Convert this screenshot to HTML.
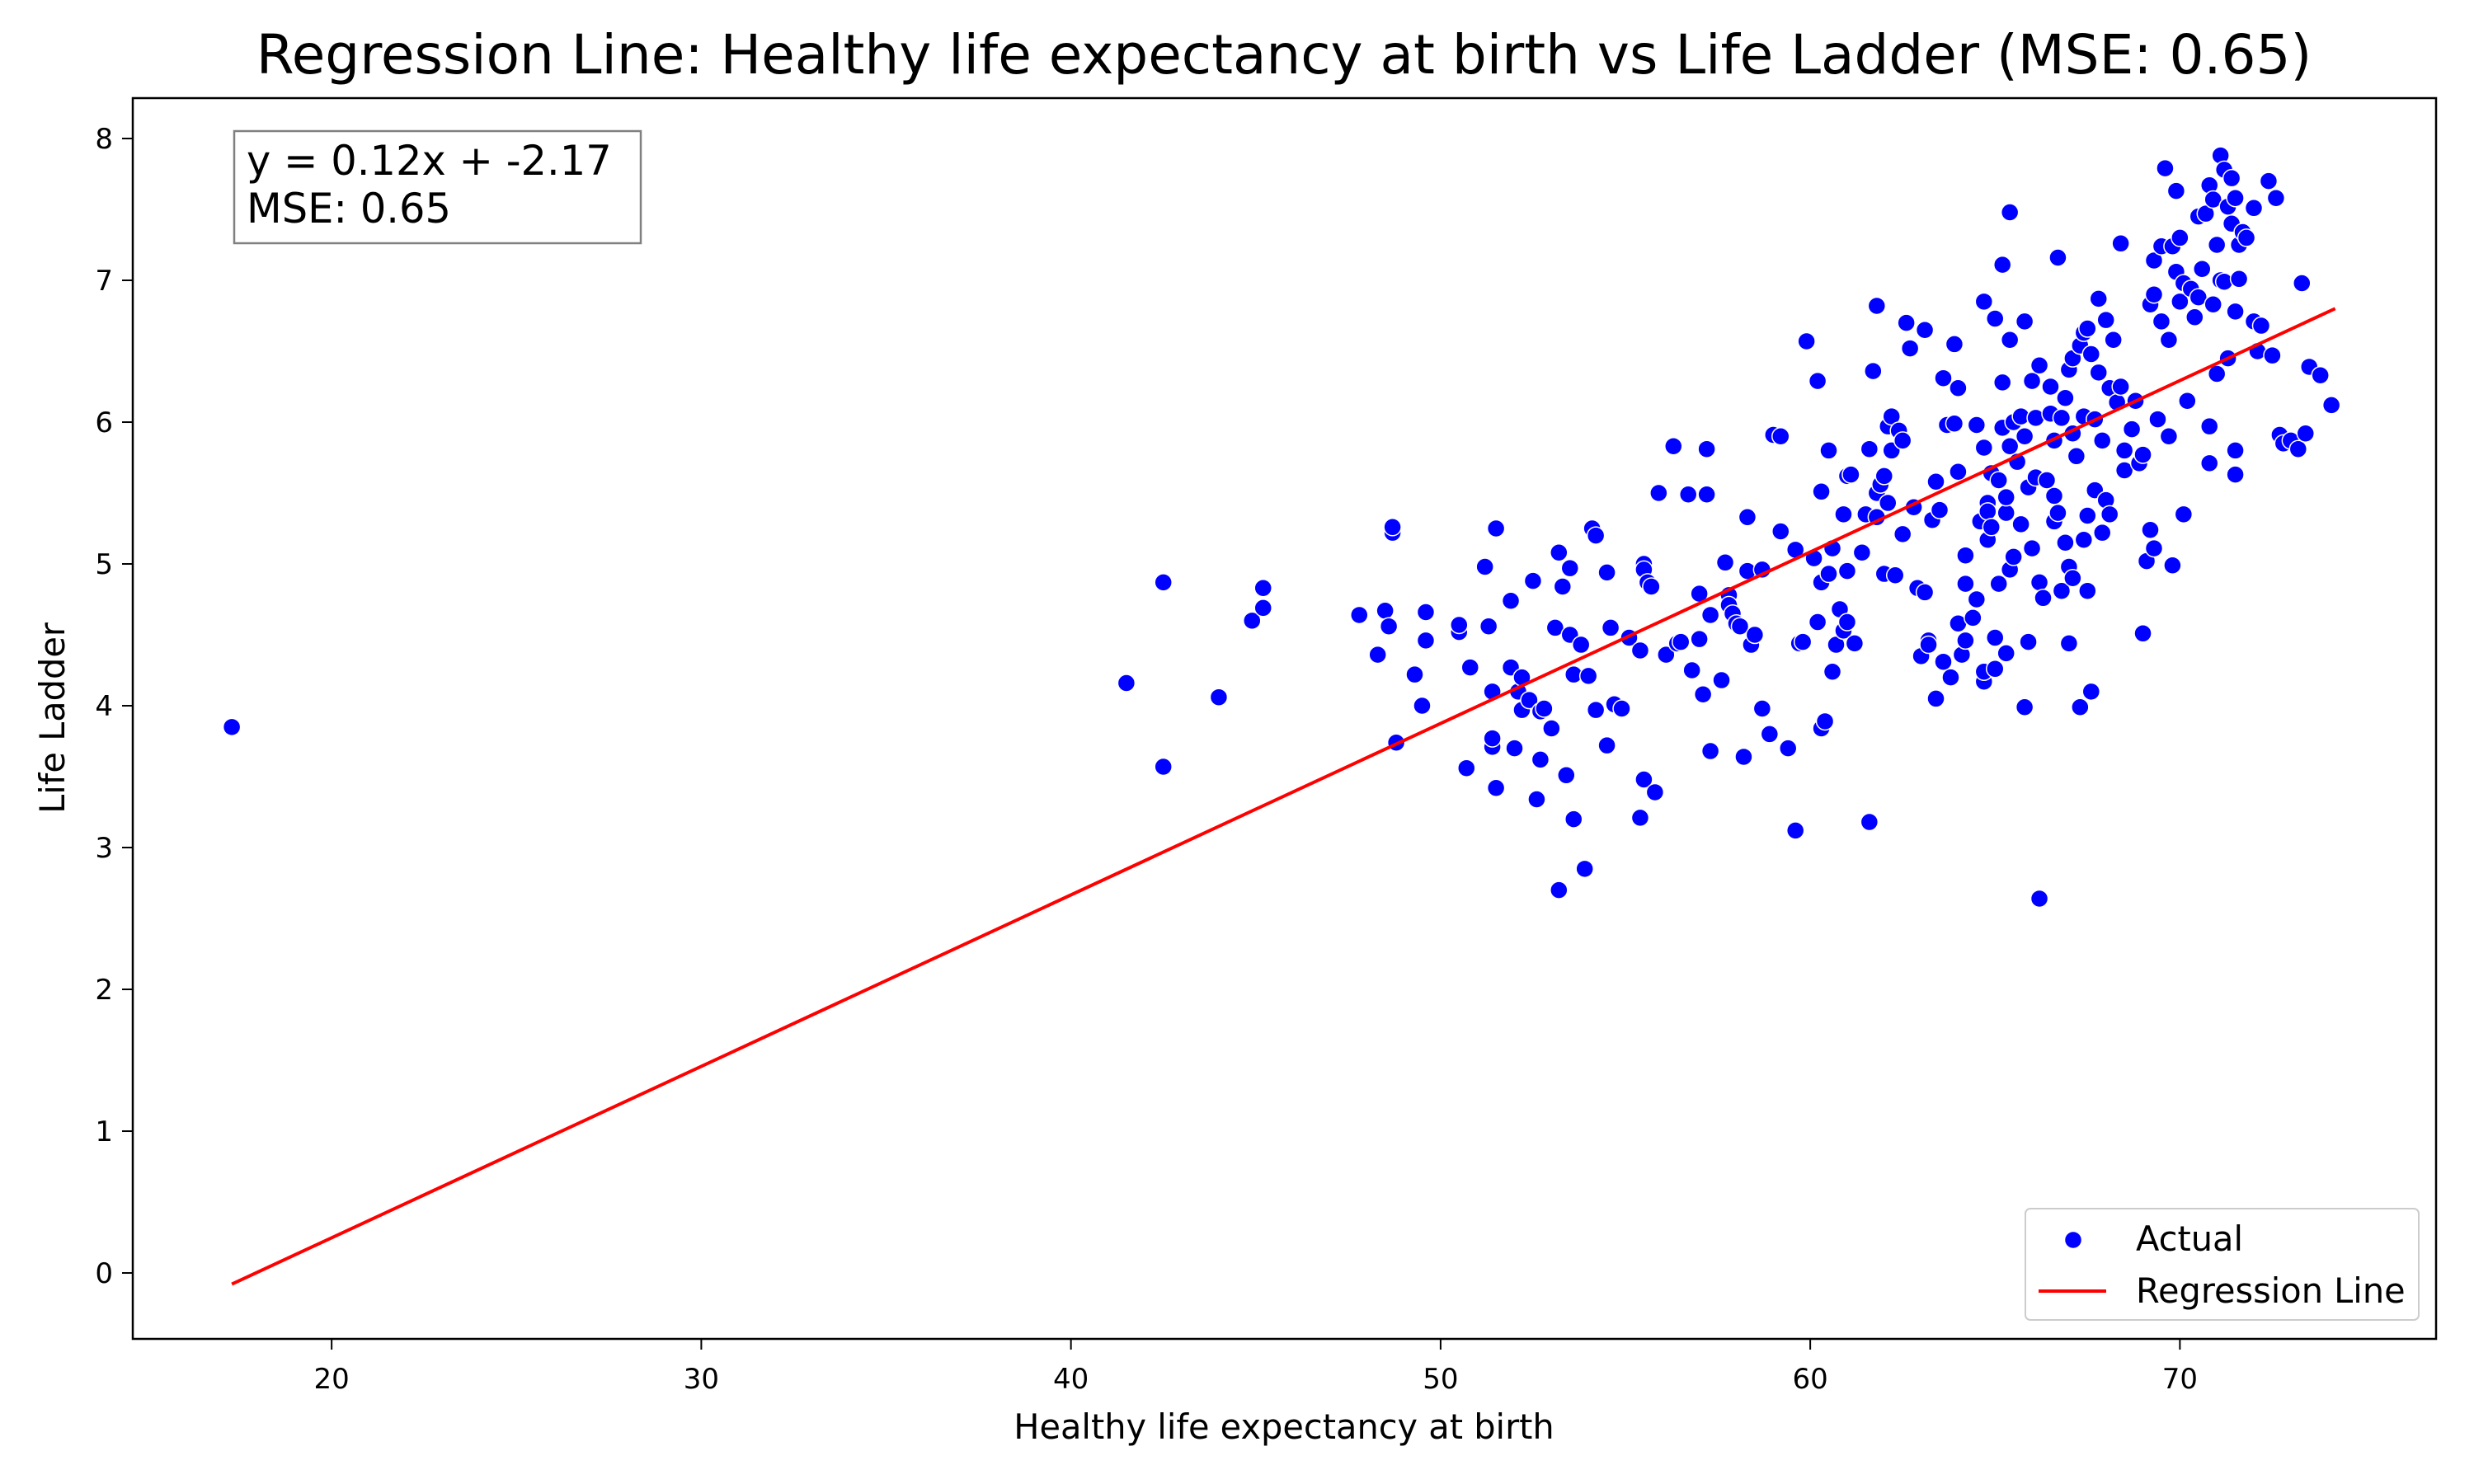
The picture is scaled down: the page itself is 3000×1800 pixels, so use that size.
<!DOCTYPE html>
<html><head><meta charset="utf-8">
<style>
html,body{margin:0;padding:0;background:#fff;}
svg{display:block;font-family:"DejaVu Sans","Liberation Sans",sans-serif;}
</style></head>
<body>
<svg id="chart" width="3000" height="1800" viewBox="0 0 3000 1800" xmlns="http://www.w3.org/2000/svg">
<rect width="3000" height="1800" fill="#fff"/>
<text x="1557" y="89" font-size="66" text-anchor="middle">Regression Line: Healthy life expectancy at birth vs Life Ladder (MSE: 0.65)</text>
<g id="marks"></g>
<g id="axes"></g>
<rect x="161" y="119" width="2793" height="1505" fill="none" stroke="#000" stroke-width="2.5"/>
<g>
<rect x="284" y="159" width="493" height="136" fill="#fff" stroke="#808080" stroke-width="2.5"/>
<text x="299" y="212" font-size="49.5">y = 0.12x + -2.17</text>
<text x="299" y="270" font-size="49.5">MSE: 0.65</text>
</g>
<g>
<rect x="2456" y="1466" width="477" height="135" rx="6" fill="#fff" fill-opacity="0.8" stroke="#ccc" stroke-width="2"/>
<circle cx="2514" cy="1504" r="10.5" fill="#0000ff" stroke="#fff" stroke-width="1.5"/>
<text x="2590" y="1517" font-size="41.5">Actual</text>
<line x1="2472" y1="1566" x2="2554" y2="1566" stroke="#ff0000" stroke-width="4"/>
<text x="2590" y="1580" font-size="41.5">Regression Line</text>
</g>
<text x="1557" y="1745" font-size="41.5" text-anchor="middle">Healthy life expectancy at birth</text>
<text x="0" y="0" font-size="41.5" text-anchor="middle" transform="translate(78,871) rotate(-90)">Life Ladder</text>
</svg>
<script>
const xTicks=[20,30,40,50,60,70];
const yTicks=[0,1,2,3,4,5,6,7,8];
const slope=0.1209, intercept=-2.17;
const lineRange=[17.3,74.2];
const px=[17.3,41.5,42.5,42.5,44,44.9,45.2,45.2,47.8,48.3,48.5,48.6,48.7,48.7,48.8,49.3,49.5,49.6,49.6,50.5,50.5,50.7,50.8,51.2,51.3,51.4,51.4,51.4,51.5,51.5,51.9,51.9,52.0,52.1,52.2,52.2,52.4,52.5,52.6,52.7,52.7,52.8,53,53.1,53.2,53.2,53.3,53.4,53.5,53.5,53.6,53.6,53.8,53.9,54.0,54.1,54.2,54.2,54.5,54.5,54.6,54.7,54.9,55.1,55.4,55.4,55.5,55.5,55.5,55.6,55.7,55.8,55.9,56.1,56.3,56.4,56.5,56.7,56.8,57,57,57.1,57.2,57.2,57.3,57.3,57.6,57.7,57.8,57.8,57.9,58.0,58.1,58.2,58.3,58.3,58.4,58.5,58.7,58.7,58.9,59.0,59.2,59.2,59.4,59.6,59.6,59.7,59.8,59.9,60.1,60.2,60.2,60.3,60.3,60.3,60.4,60.5,60.5,60.6,60.7,60.6,60.9,60.8,60.9,61,61.0,61,61.1,61.2,61.4,61.5,61.6,61.6,61.7,61.8,61.8,61.8,61.9,62,62.0,62.1,62.1,62.2,62.2,62.3,62.4,62.5,62.5,62.6,62.7,62.8,62.9,63,63.1,63.1,63.2,63.2,63.3,63.4,63.4,63.5,63.6,63.6,63.7,63.8,63.9,63.9,64,64.0,64,64.1,64.2,64.2,64.2,64.4,64.5,64.5,64.6,64.7,64.7,64.7,64.7,64.8,64.8,64.8,64.9,64.9,65.0,65,65,65.1,65.1,65.2,65.2,65.2,65.3,65.3,65.3,65.4,65.4,65.4,65.4,65.5,65.5,65.6,65.7,65.7,65.8,65.8,65.8,65.9,65.9,66,66,66.1,66.1,66.2,66.2,66.2,66.3,66.4,66.5,66.5,66.6,66.6,66.6,66.7,66.7,66.8,66.8,66.9,66.9,67,67,67,67.1,67.1,67.1,67.2,67.3,67.3,67.4,67.4,67.4,67.5,67.5,67.5,67.6,67.6,67.7,67.7,67.8,67.8,67.9,67.9,68,68.0,68.1,68.1,68.2,68.3,68.4,68.4,68.5,68.5,68.7,68.8,68.9,69,69,69.1,69.2,69.2,69.3,69.3,69.3,69.4,69.5,69.5,69.6,69.7,69.7,69.8,69.8,69.9,69.9,70,70,70.1,70.1,70.2,70.3,70.4,70.5,70.5,70.6,70.7,70.8,70.8,70.8,70.9,70.9,71,71,71.1,71.1,71.2,71.2,71.3,71.3,71.4,71.4,71.5,71.5,71.5,71.5,71.6,71.6,71.7,71.8,72,72,72.1,72.2,72.4,72.5,72.6,72.7,72.8,73,73.2,73.3,73.4,73.5,73.8,74.1];
const py=[3.85,4.16,4.87,3.57,4.06,4.6,4.69,4.83,4.64,4.36,4.67,4.56,5.22,5.26,3.74,4.22,4.0,4.66,4.46,4.52,4.57,3.56,4.27,4.98,4.56,3.71,3.77,4.1,5.25,3.42,4.74,4.27,3.7,4.1,4.2,3.97,4.04,4.88,3.34,3.62,3.96,3.98,3.84,4.55,5.08,2.7,4.84,3.51,4.5,4.97,4.22,3.2,4.43,2.85,4.21,5.25,5.2,3.97,4.94,3.72,4.55,4.01,3.98,4.48,4.39,3.21,3.48,5.0,4.96,4.87,4.84,3.39,5.5,4.36,5.83,4.44,4.45,5.49,4.25,4.79,4.47,4.08,5.81,5.49,3.68,4.64,4.18,5.01,4.78,4.71,4.65,4.58,4.56,3.64,5.33,4.95,4.43,4.5,3.98,4.96,3.8,5.91,5.9,5.23,3.7,3.12,5.1,4.44,4.45,6.57,5.04,6.29,4.59,4.87,3.84,5.51,3.89,4.93,5.8,5.11,4.43,4.24,5.35,4.68,4.53,4.59,5.62,4.95,5.63,4.44,5.08,5.35,5.81,3.18,6.36,5.5,6.82,5.33,5.56,4.93,5.62,5.97,5.43,5.8,6.04,4.92,5.94,5.21,5.87,6.7,6.52,5.4,4.83,4.35,6.65,4.8,4.46,4.43,5.31,5.58,4.05,5.38,4.31,6.31,5.98,4.2,6.55,5.99,6.24,5.65,4.58,4.36,5.06,4.46,4.86,4.62,5.98,4.75,5.3,6.85,5.82,4.17,4.24,5.43,5.37,5.17,5.64,5.26,6.73,4.48,4.26,5.59,4.86,5.96,6.28,7.11,5.36,4.37,5.47,7.48,6.58,5.83,4.96,6.0,5.05,5.72,6.04,5.28,3.99,6.71,5.9,5.54,4.45,6.29,5.11,6.03,5.61,6.4,4.87,2.64,4.76,5.59,6.25,6.06,5.87,5.48,5.3,7.16,5.36,6.03,4.81,6.17,5.15,6.37,4.98,4.44,6.45,5.92,4.9,5.76,6.54,3.99,6.63,6.04,5.17,6.66,5.34,4.81,6.48,4.1,6.02,5.52,6.87,6.35,5.87,5.22,6.72,5.45,6.24,5.35,6.58,6.14,7.26,6.25,5.8,5.66,5.95,6.15,5.71,4.51,5.77,5.02,5.24,6.83,7.14,6.9,5.11,6.02,6.71,7.24,7.79,6.58,5.9,7.24,4.99,7.63,7.06,7.3,6.85,5.35,6.98,6.15,6.94,6.74,7.45,6.88,7.08,7.47,5.71,5.97,7.67,6.83,7.57,7.25,6.34,7.88,7.0,7.78,6.99,7.52,6.45,7.72,7.4,7.58,6.78,5.8,5.63,7.25,7.01,7.34,7.3,7.51,6.71,6.5,6.68,7.7,6.47,7.58,5.91,5.85,5.87,5.81,6.98,5.92,6.39,6.33,6.12];

const NS='http://www.w3.org/2000/svg';
const L=161,R=2954,T=119,B=1624;
const xMin=14.62,xMax=76.93,yMin=-0.465,yMax=8.285;
function sx(v){return L+(v-xMin)/(xMax-xMin)*(R-L);}
function sy(v){return B-(v-yMin)/(yMax-yMin)*(B-T);}
function mk(tag,attrs,parent){const e=document.createElementNS(NS,tag);for(const k in attrs)e.setAttribute(k,attrs[k]);parent.appendChild(e);return e;}
const marks=document.getElementById('marks'),axes=document.getElementById('axes');
for(let i=0;i<px.length;i++){
  const c=mk('circle',{cx:sx(px[i]),cy:sy(py[i]),r:10.5,fill:'#0000ff',stroke:'#fff','stroke-width':1.5},marks);
  
  
}
const ln=mk('line',{x1:sx(lineRange[0]),y1:sy(slope*lineRange[0]+intercept),x2:sx(lineRange[1]),y2:sy(slope*lineRange[1]+intercept),stroke:'#ff0000','stroke-width':4},marks);


xTicks.forEach(t=>{
  const g=mk('g',{},axes);
  
  
  mk('line',{x1:sx(t),x2:sx(t),y1:B,y2:B+13,stroke:'#000','stroke-width':2},g);
  const tx=mk('text',{x:sx(t),y:B+60,'font-size':34,'text-anchor':'middle'},g);tx.textContent=t;
});
yTicks.forEach(t=>{
  const g=mk('g',{},axes);
  
  
  mk('line',{x1:L-13,x2:L,y1:sy(t),y2:sy(t),stroke:'#000','stroke-width':2},g);
  const tx=mk('text',{x:L-24,y:sy(t)+12,'font-size':34,'text-anchor':'end'},g);tx.textContent=t;
});
</script>
</body></html>
